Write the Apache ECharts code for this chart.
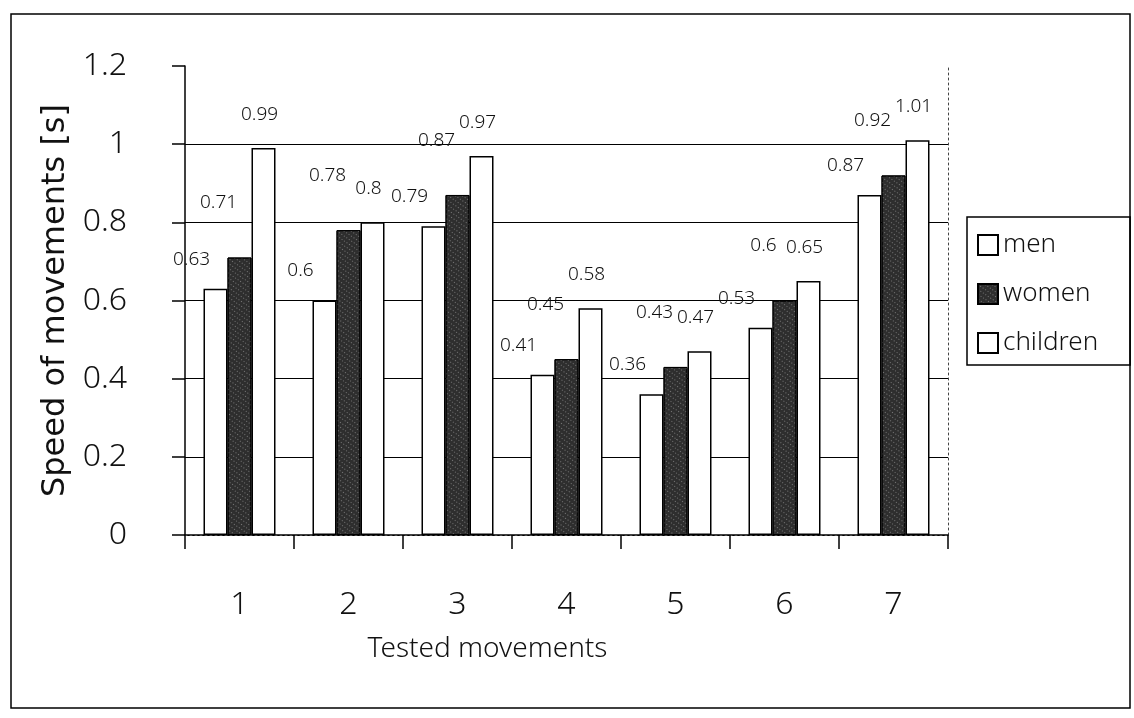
<!DOCTYPE html>
<html>
<head>
<meta charset="utf-8">
<script src="https://cdn.jsdelivr.net/npm/echarts@6.0.0/dist/echarts.min.js"></script>
<style>
  html, body { margin: 0; padding: 0; background: #fff; }
  #chart { width: 1134px; height: 718px; }
</style>
</head>
<body>
<div id="chart"></div>
<script>
// data
var categories = ['1', '2', '3', '4', '5', '6', '7'];
var men = [0.63, 0.6, 0.79, 0.41, 0.36, 0.53, 0.87];
var women = [0.71, 0.78, 0.87, 0.45, 0.43, 0.6, 0.92];
var children = [0.99, 0.8, 0.97, 0.58, 0.47, 0.65, 1.01];
var yTicks = [0, 0.2, 0.4, 0.6, 0.8, 1, 1.2];

(function () {
  var dom = document.getElementById('chart');
  var myChart = echarts.init(dom, null, { renderer: 'canvas' });

  // thin face for numbers and the legend
  var thin = "'Noto Sans', sans-serif";
  var thinWeight = 300;
  var ink = '#111';

  // label styling shared by the three series
  function barLabel(offset) {
    return {
      show: true,
      position: 'top',
      offset: offset,
      fontFamily: thin,
      fontWeight: thinWeight,
      fontSize: 19,
      color: ink
    };
  }

  var option = {
    animation: false,
    backgroundColor: '#fff',
    grid: {
      left: 185,
      right: 186,
      top: 66,
      bottom: 183,
      containLabel: false,
      outerBoundsMode: 'none'
    },
    legend: {
      orient: 'vertical',
      left: 967,
      top: 217,
      padding: [15, 32, 9, 10],
      borderColor: '#000',
      borderWidth: 1.5,
      itemWidth: 20,
      itemHeight: 20,
      itemGap: 23,
      icon: 'rect',
      textStyle: { fontFamily: thin, fontWeight: thinWeight, fontSize: 26, color: ink },
      data: ['men', 'women', 'children']
    },
    xAxis: [{
      type: 'category',
      data: categories,
      axisLine: { lineStyle: { color: '#000', width: 1.5 } },
      axisTick: { show: true, length: 14, lineStyle: { color: '#000', width: 1.5 } },
      axisLabel: { fontFamily: thin, fontWeight: thinWeight, fontSize: 32, color: ink, margin: 54 },
      name: 'Tested movements',
      nameLocation: 'middle',
      nameGap: 100,
      nameTextStyle: { fontFamily: thin, fontWeight: thinWeight, fontSize: 28, color: ink, padding: [0, 158, 0, 0] }
    }, {
      // dotted frame along the top of the plot
      type: 'category',
      position: 'top',
      data: categories,
      axisLine: { lineStyle: { color: '#444', width: 1, type: [2, 3] } },
      axisTick: { show: false },
      axisLabel: { show: false }
    }],
    yAxis: [{
      type: 'value',
      min: yTicks[0],
      max: yTicks[yTicks.length - 1],
      interval: yTicks[1] - yTicks[0],
      axisLine: { show: true, lineStyle: { color: '#000', width: 1.5 } },
      axisTick: { show: true, length: 13, lineStyle: { color: '#000', width: 1.5 } },
      axisLabel: { fontFamily: thin, fontWeight: thinWeight, fontSize: 32, color: ink, margin: 58 },
      splitLine: { show: true, showMaxLine: false, lineStyle: { color: '#000', width: 1.2 } },
      name: 'Speed of movements [s]',
      nameLocation: 'middle',
      nameGap: 106,
      nameTextStyle: { fontFamily: "'DejaVu Sans', sans-serif", fontSize: 32, color: ink }
    }, {
      // dotted frame along the right of the plot
      type: 'value',
      position: 'right',
      min: yTicks[0],
      max: yTicks[yTicks.length - 1],
      interval: yTicks[1] - yTicks[0],
      axisLine: { show: true, lineStyle: { color: '#444', width: 1, type: [2, 3] } },
      axisTick: { show: false },
      axisLabel: { show: false },
      splitLine: { show: false }
    }],
    graphic: [{
      type: 'rect',
      silent: true,
      z: -10,
      shape: { x: 11, y: 14, width: 1119, height: 694 },
      style: { fill: 'none', stroke: '#000', lineWidth: 1.5 }
    }],
    series: [{
      name: 'men',
      type: 'bar',
      data: men,
      barWidth: 24,
      barGap: '0%',
      itemStyle: { color: '#fff', borderColor: '#000', borderWidth: 1.5 },
      label: barLabel([-24, -15])
    }, {
      name: 'women',
      type: 'bar',
      data: women,
      barWidth: 24,
      barGap: '0%',
      itemStyle: {
        color: '#2e2e2e',
        borderColor: '#000',
        borderWidth: 1,
        // stippled fill like the printed original
        decal: {
          symbol: 'rect',
          symbolSize: 1,
          color: 'rgba(255,255,255,0.35)',
          dashArrayX: [1, 2],
          dashArrayY: [1, 3],
          rotation: 0.6
        }
      },
      label: barLabel([-21, -40])
    }, {
      name: 'children',
      type: 'bar',
      data: children,
      barWidth: 24,
      barGap: '0%',
      itemStyle: { color: '#fff', borderColor: '#000', borderWidth: 1.5 },
      label: barLabel([-4, -19])
    }]
  };

  if (option && typeof option === 'object') {
    myChart.setOption(option);
  }
})();
</script>
</body>
</html>
